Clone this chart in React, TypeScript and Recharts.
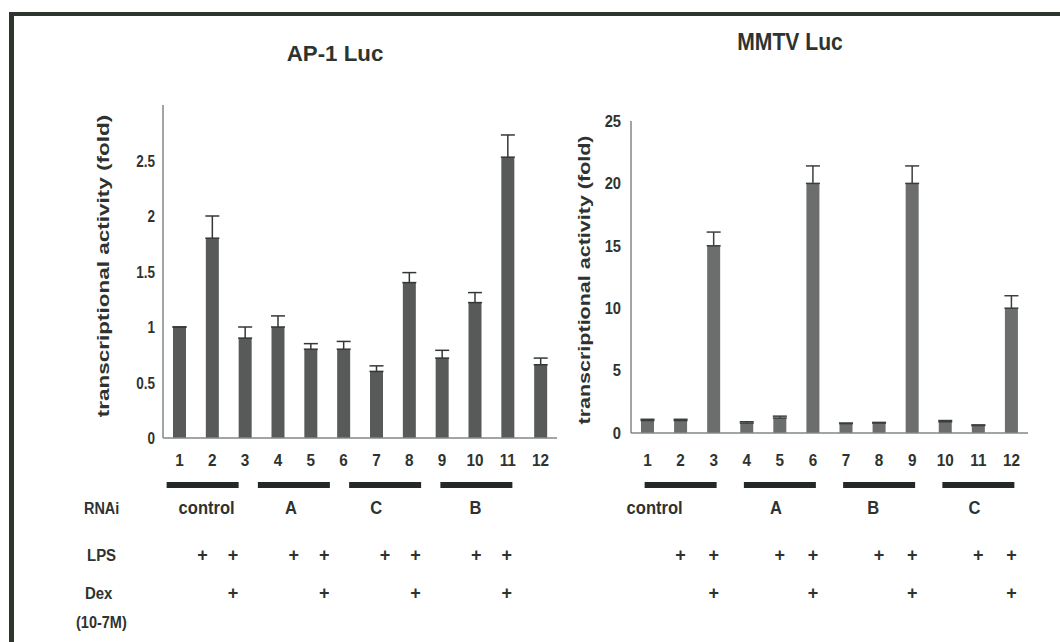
import React from 'react'
import { BarChart, Bar, XAxis, YAxis, ErrorBar } from 'recharts'

// lanes 1..12, three per RNAi group
const lanes = ['1', '2', '3', '4', '5', '6', '7', '8', '9', '10', '11', '12']

const ap1Values = [1, 1.8, 0.9, 1.0, 0.8, 0.8, 0.6, 1.4, 0.72, 1.22, 2.53, 0.66]
const ap1Errors = [0, 0.2, 0.1, 0.1, 0.05, 0.07, 0.05, 0.09, 0.07, 0.09, 0.2, 0.06]
const ap1Ticks = [0, 0.5, 1, 1.5, 2, 2.5]
const ap1Groups = ['control', 'A', 'C', 'B']

const mmtvValues = [1.0, 1.0, 15, 0.8, 1.2, 20, 0.75, 0.8, 20, 0.9, 0.6, 10]
const mmtvErrors = [0.1, 0.1, 1.1, 0.1, 0.15, 1.4, 0.05, 0.05, 1.4, 0.1, 0.05, 1.0]
const mmtvTicks = [0, 5, 10, 15, 20, 25]
const mmtvGroups = ['control', 'A', 'B', 'C']

const lpsRow = ['', '+', '+', '', '+', '+', '', '+', '+', '', '+', '+']
const dexRow = ['', '', '+', '', '', '+', '', '', '+', '', '', '+']

// small horizontal nudges for the group names under the black bars
const ap1LabelNudge = [4, -3, -9, -1]
const mmtvLabelNudge = [-26, -4, -6, -4]

const FONT = '"Liberation Sans", Arial, Helvetica, sans-serif'
const INK = '#2e3330'

const ap1Data = lanes.map((lane, i) => ({ lane, value: ap1Values[i], err: [0, ap1Errors[i]] }))
const mmtvData = lanes.map((lane, i) => ({ lane, value: mmtvValues[i], err: [0, mmtvErrors[i]] }))

// the scanned figure is squeezed horizontally, so text gets a scaleX
const Squashed = ({ x, y, size, sx = 0.85, anchor = 'middle', weight = 700, rotate, children }: any) => {
  const t = `translate(${x},${y}) scale(${sx},1)` + (rotate ? ` rotate(${rotate})` : '')
  return (
    <text
      transform={t}
      textAnchor={anchor}
      dominantBaseline="central"
      fontFamily={FONT}
      fontSize={size}
      fontWeight={weight}
      fill={INK}
    >
      {children}
    </text>
  )
}

const LaneTick = ({ x, y, payload }: any) => (
  <Squashed x={x} y={y} size={17} sx={0.9}>{payload.value}</Squashed>
)

const makeValueTick = (size: number, sx: number) => ({ x, y, payload }: any) => (
  <Squashed x={x} y={y} size={size} sx={sx} anchor="end">{payload.value}</Squashed>
)

const Plus = ({ x, y }: any) => (
  <text x={x} y={y} textAnchor="middle" dominantBaseline="central" fontFamily={FONT} fontSize={18} fontWeight={700} fill={INK}>
    +
  </text>
)

const makeTableTick = (groups: string[], nudge: number[]) => (props: any) => {
  const { x, y, payload } = props
  const i = lanes.indexOf(String(payload.value))
  const g = Math.floor(i / 3)
  const mid = i % 3 === 1
  return (
    <g>
      {mid && <rect x={x - 36} y={y + 14} width={72} height={6} fill="#232925" />}
      {mid && (
        <Squashed x={x + nudge[g]} y={y + 40} size={18} sx={0.92}>
          {groups[g]}
        </Squashed>
      )}
      {lpsRow[i] && <Plus x={x} y={y + 87} />}
      {dexRow[i] && <Plus x={x} y={y + 125} />}
    </g>
  )
}

const axisStroke = '#7f8884'

const Ap1Chart = () => (
  <BarChart
    width={570}
    height={642}
    data={ap1Data}
    margin={{ top: 105, right: 13, bottom: 0, left: 103 }}
  >
    <XAxis
      dataKey="lane"
      interval={0}
      height={30}
      tickSize={0}
      tickMargin={22}
      tickLine={false}
      axisLine={{ stroke: axisStroke, strokeWidth: 1.5 }}
      tick={<LaneTick />}
    />
    <XAxis
      xAxisId="table"
      dataKey="lane"
      interval={0}
      height={174}
      tickSize={0}
      tickMargin={0}
      tickLine={false}
      axisLine={false}
      padding={{ left: -6, right: 35 }}
      tick={makeTableTick(ap1Groups, ap1LabelNudge)}
    />
    <YAxis
      width={60}
      domain={[0, 3]}
      ticks={ap1Ticks}
      tickSize={0}
      tickMargin={8}
      tickLine={false}
      axisLine={{ stroke: axisStroke, strokeWidth: 1.5 }}
      tick={makeValueTick(16.5, 0.82)}
    />
    <Bar dataKey="value" fill="#575a58" barSize={13} isAnimationActive={false}>
      <ErrorBar dataKey="err" width={7} stroke="#333835" strokeWidth={1.5} direction="y" />
    </Bar>
  </BarChart>
)

const MmtvChart = () => (
  <BarChart
    width={520}
    height={642}
    data={mmtvData}
    margin={{ top: 121, right: 32, bottom: 0, left: 31 }}
  >
    <XAxis
      dataKey="lane"
      interval={0}
      height={35}
      tickSize={0}
      tickMargin={27}
      tickLine={false}
      axisLine={{ stroke: axisStroke, strokeWidth: 1.5 }}
      tick={<LaneTick />}
    />
    <XAxis
      xAxisId="table"
      dataKey="lane"
      interval={0}
      height={174}
      tickSize={0}
      tickMargin={0}
      tickLine={false}
      axisLine={false}
      tick={makeTableTick(mmtvGroups, mmtvLabelNudge)}
    />
    <YAxis
      width={60}
      domain={[0, 25]}
      ticks={mmtvTicks}
      tickSize={0}
      tickMargin={10}
      tickLine={false}
      axisLine={{ stroke: axisStroke, strokeWidth: 1.5 }}
      tick={makeValueTick(16, 0.92)}
    />
    <Bar dataKey="value" fill="#6b6e6c" barSize={13} isAnimationActive={false}>
      <ErrorBar dataKey="err" width={7} stroke="#3a3f3c" strokeWidth={1.5} direction="y" />
    </Bar>
  </BarChart>
)

const yLabel = 'transcriptional activity (fold)'

export default function App() {
  return (
    <div style={{ position: 'absolute', left: 0, top: 0, width: 1060, height: 642, background: '#fff' }}>
      <div style={{ position: 'absolute', left: 0, top: 0 }}>
        <Ap1Chart />
      </div>
      <div style={{ position: 'absolute', left: 540, top: 0 }}>
        <MmtvChart />
      </div>
      <svg width={1060} height={642} style={{ position: 'absolute', left: 0, top: 0, pointerEvents: 'none' }}>
        <rect x={9} y={12} width={1051} height={4} fill="#2c362f" />
        <rect x={9} y={12} width={5} height={630} fill="#2c362f" />

        <Squashed x={335} y={53} size={23} sx={0.97}>AP-1 Luc</Squashed>
        <Squashed x={790} y={42} size={24} sx={0.88}>MMTV Luc</Squashed>

        <Squashed x={103} y={266} size={22.5} sx={0.75} rotate={-90}>{yLabel}</Squashed>
        <Squashed x={584} y={280} size={21.5} sx={0.75} rotate={-90}>{yLabel}</Squashed>

        <Squashed x={84} y={508} size={17} sx={0.85} anchor="start">RNAi</Squashed>
        <Squashed x={87} y={555} size={17} sx={0.88} anchor="start">LPS</Squashed>
        <Squashed x={85} y={593} size={17} sx={0.88} anchor="start">Dex</Squashed>
        <Squashed x={76} y={622} size={16.5} sx={0.88} anchor="start">(10-7M)</Squashed>
      </svg>
    </div>
  )
}
